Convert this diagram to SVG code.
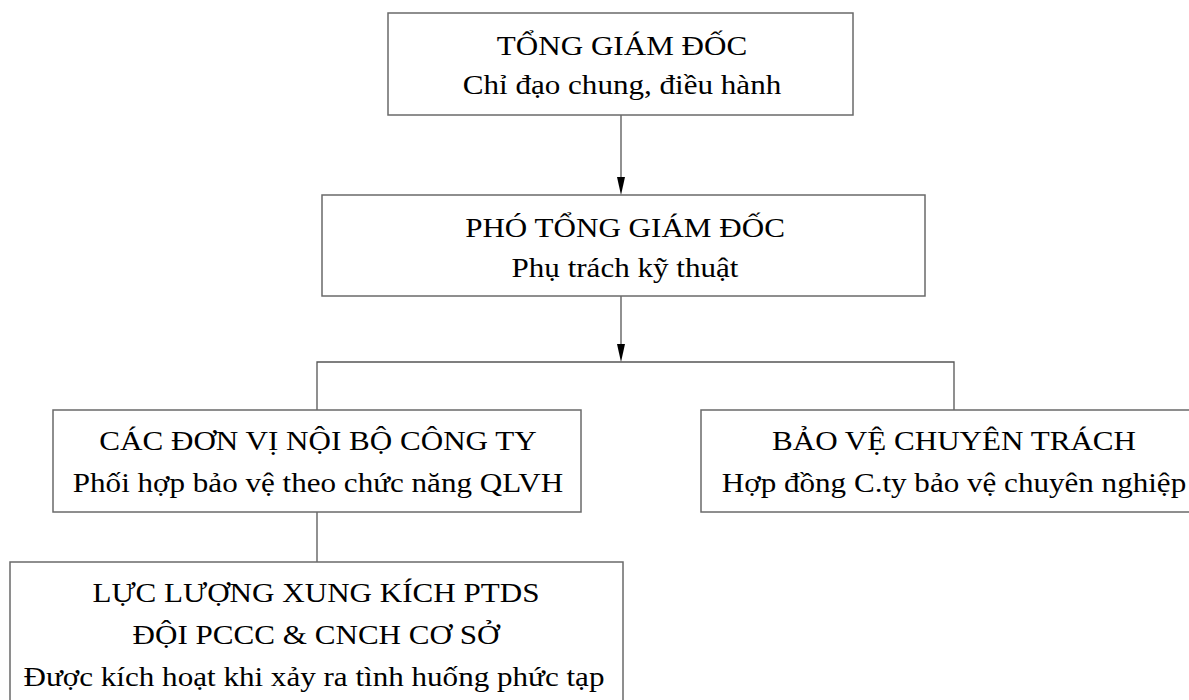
<svg xmlns="http://www.w3.org/2000/svg" width="1189" height="700" viewBox="0 0 1189 700">
<style>
.box{fill:#fff;stroke:#6a6a6a;stroke-width:1.5}
.t{font-family:"Liberation Serif","Times New Roman",serif;font-size:28px;fill:#000;text-anchor:middle}
.c{fill:none;stroke:#555;stroke-width:1.3}
.ah{fill:#000}
</style>
<rect width="1189" height="700" fill="#fff"/>
<g id="connectors">
<path class="c" d="M621,115 V178"/>
<path class="ah" d="M617,177 L625,177 L621,195 Z"/>
<path class="c" d="M621,296 V345"/>
<path class="ah" d="M617,344 L625,344 L621,362 Z"/>
<path class="c" d="M317,410 V362 H954 V410"/>
<path class="c" d="M317,512 V562"/>
</g>
<g id="n1">
<rect class="box" x="388" y="13" width="465" height="102"/>
<text class="t" transform="translate(622 55) scale(1.11 1)">TỔNG GIÁM ĐỐC</text>
<text class="t" transform="translate(622 94) scale(1.11 1)">Chỉ đạo chung, điều hành</text>
</g>
<g id="n2">
<rect class="box" x="322" y="195" width="603" height="101"/>
<text class="t" transform="translate(625 237) scale(1.11 1)">PHÓ TỔNG GIÁM ĐỐC</text>
<text class="t" transform="translate(625 277) scale(1.11 1)">Phụ trách kỹ thuật</text>
</g>
<g id="n3">
<rect class="box" x="53" y="410" width="528" height="102"/>
<text class="t" transform="translate(318 450) scale(1.11 1)">CÁC ĐƠN VỊ NỘI BỘ CÔNG TY</text>
<text class="t" transform="translate(318 492) scale(1.11 1)">Phối hợp bảo vệ theo chức năng QLVH</text>
</g>
<g id="n4">
<rect class="box" x="701" y="410" width="506" height="102"/>
<text class="t" transform="translate(954 450) scale(1.11 1)">BẢO VỆ CHUYÊN TRÁCH</text>
<text class="t" transform="translate(954 492) scale(1.11 1)">Hợp đồng C.ty bảo vệ chuyên nghiệp</text>
</g>
<g id="n5">
<rect class="box" x="10" y="562" width="613" height="150"/>
<text class="t" transform="translate(316 602) scale(1.11 1)">LỰC LƯỢNG XUNG KÍCH PTDS</text>
<text class="t" transform="translate(316 644) scale(1.11 1)">ĐỘI PCCC &amp; CNCH CƠ SỞ</text>
<text class="t" transform="translate(314 686) scale(1.11 1)">Được kích hoạt khi xảy ra tình huống phức tạp</text>
</g>
</svg>
